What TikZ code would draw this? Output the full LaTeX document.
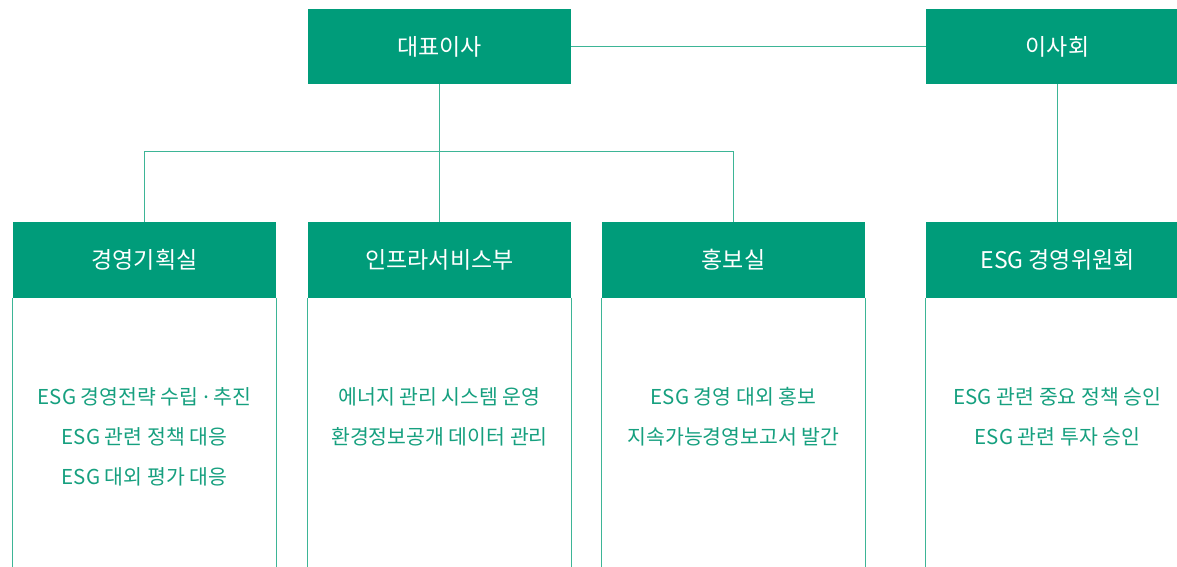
\documentclass[tikz,border=0pt]{standalone}
\usepackage{fontspec}
\setmainfont{Noto Sans CJK KR}
\newfontfamily\dotfont{Noto Sans}
\definecolor{hdgreen}{HTML}{009C7A}
\definecolor{txgreen}{HTML}{16A07F}
\definecolor{lngreen}{HTML}{3DB596}
\tikzset{
  hdbox/.style={fill=hdgreen, text=white, minimum width=263pt, minimum height=75.5pt,
    inner sep=0pt, font=\fontsize{23}{27}\selectfont},
  conn/.style={draw=lngreen, line width=1.1pt},
  bodyline/.style={text=txgreen, font=\fontsize{20.5}{24}\selectfont, inner sep=0pt, anchor=center}
}
\begin{document}
\begin{tikzpicture}[x=1pt,y=1pt]
\clip (0,0) rectangle (1177,-567);
\fill[white] (0,0) rectangle (1177,-567);
% top row
\node[hdbox] (ceo) at (439.5,-46.5) {대표이사};
\node[hdbox] (board) at (1057.5,-46.5) {이사회};
% second row headers
\node[hdbox] (plan) at (144.5,-260) {경영기획실};
\node[hdbox] (infra) at (439.5,-260) {인프라서비스부};
\node[hdbox] (pr) at (733.5,-260) {홍보실};
\node[hdbox] (esg) at (1057.5,-260) {ESG 경영위원회};
% body outlines
\foreach \n in {plan,infra,pr,esg}{
  \draw[conn] (\n.south west) -- ++(0,-300);
  \draw[conn] (\n.south east) -- ++(0,-300);
}
% connectors
\coordinate (bus) at (439.5,-151.5);
\draw[conn] (ceo.east) -- (board.west);
\draw[conn] (ceo.south) -- (infra.north);
\draw[conn] (plan.north) |- (bus) -| (pr.north);
\draw[conn] (board.south) -- (esg.north);
% body texts
\node[bodyline] (p1) at (144.5,-397) {ESG 경영전략 수립 {\dotfont·} 추진};
\node[bodyline] (p2) at (144.5,-437) {ESG 관련 정책 대응};
\node[bodyline] (p3) at (144.5,-477) {ESG 대외 평가 대응};
\node[bodyline] (i1) at (439.5,-397) {에너지 관리 시스템 운영};
\node[bodyline] (i2) at (439.5,-437) {환경정보공개 데이터 관리};
\node[bodyline] (r1) at (733.5,-397) {ESG 경영 대외 홍보};
\node[bodyline] (r2) at (733.5,-437) {지속가능경영보고서 발간};
\node[bodyline] (e1) at (1057.5,-397) {ESG 관련 중요 정책 승인};
\node[bodyline] (e2) at (1057.5,-437) {ESG 관련 투자 승인};
\end{tikzpicture}
\end{document}
